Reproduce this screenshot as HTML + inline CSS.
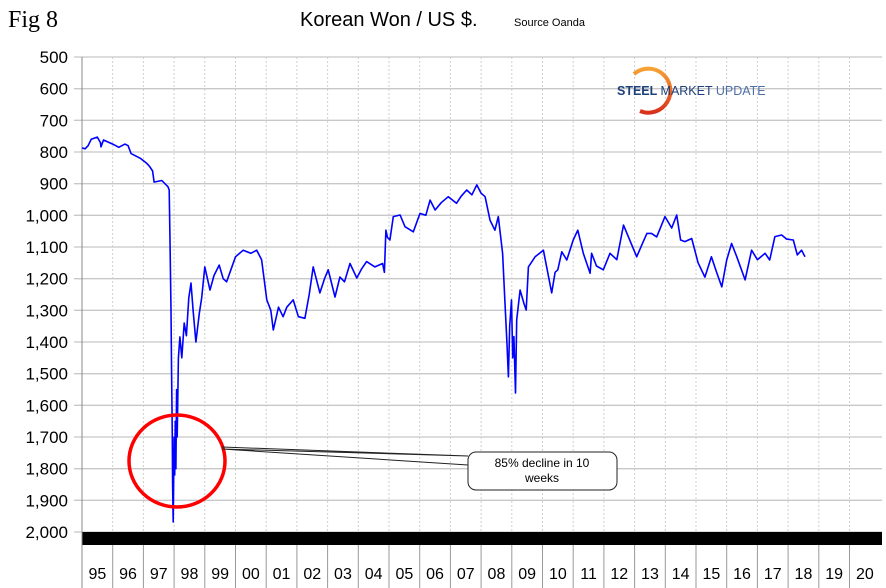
<!DOCTYPE html>
<html><head><meta charset="utf-8"><style>
html,body{margin:0;padding:0;background:#fff;width:886px;height:588px;overflow:hidden}
svg{display:block;font-family:"Liberation Sans",Arial,sans-serif}
</style></head><body>
<svg id="chart" width="886" height="588">
  <defs>
    <linearGradient id="arcg" x1="0" y1="0" x2="0" y2="1">
      <stop offset="0" stop-color="#f7a234"/>
      <stop offset="1" stop-color="#d9301c"/>
    </linearGradient>
  </defs>
  <text x="8" y="27" font-family="Liberation Serif,serif" font-size="24">Fig 8</text>
  <text x="300" y="26" font-size="20">Korean Won / US $.</text>
  <text x="514" y="26" font-size="11">Source Oanda</text>
  <g id="grid"></g>
  <g id="ylabels"></g>
  <g id="xlabels"></g>
  <rect x="82" y="532" width="800" height="13" fill="#000"/>
  <line x1="82" y1="57" x2="82" y2="588" stroke="#888" stroke-width="1"/>
  <g>
    <path d="M 634 74 A 22 22 0 1 1 640 111" fill="none" stroke="url(#arcg)" stroke-width="4"/>
    <text x="617" y="95" font-size="12.5"><tspan font-weight="bold" fill="#1d3f7a">STEEL </tspan><tspan fill="#1d3f7a">MARKET </tspan><tspan fill="#4e6fa8">UPDATE</tspan></text>
  </g>
  <path id="series" fill="none" stroke="#0000ff" stroke-width="1.6" stroke-linejoin="round"/>
  <ellipse cx="177" cy="461" rx="48" ry="46" fill="none" stroke="#ff0000" stroke-width="3.5"/>
  <polyline points="222,447 468,456 222,449 468,465" fill="none" stroke="#222" stroke-width="1"/>
  <rect x="468" y="452" width="149" height="38" rx="8" fill="#fff" stroke="#222" stroke-width="1"/>
  <text x="542" y="467" font-size="12" text-anchor="middle"><tspan x="542">85% decline in 10</tspan><tspan x="542" dy="15">weeks</tspan></text>
</svg>
<script>
const yTicks=[500,600,700,800,900,1000,1100,1200,1300,1400,1500,1600,1700,1800,1900,2000];
const yTickLabels=["500","600","700","800","900","1,000","1,100","1,200","1,300","1,400","1,500","1,600","1,700","1,800","1,900","2,000"];
const xYears=[1995,1996,1997,1998,1999,2000,2001,2002,2003,2004,2005,2006,2007,2008,2009,2010,2011,2012,2013,2014,2015,2016,2017,2018,2019,2020];
const xYearLabels=["95","96","97","98","99","00","01","02","03","04","05","06","07","08","09","10","11","12","13","14","15","16","17","18","19","20"];
const dates=[1995.0,1995.1,1995.2,1995.3,1995.5,1995.6,1995.62,1995.7,1996.0,1996.2,1996.4,1996.5,1996.6,1996.9,1997.1,1997.2,1997.3,1997.35,1997.6,1997.8,1997.84,1997.87,1997.9,1997.92,1997.94,1997.95,1997.97,1998.0,1998.02,1998.04,1998.06,1998.08,1998.1,1998.14,1998.19,1998.25,1998.33,1998.4,1998.48,1998.55,1998.62,1998.71,1998.82,1998.9,1999.0,1999.17,1999.3,1999.47,1999.6,1999.71,2000.0,2000.25,2000.5,2000.69,2000.85,2001.02,2001.15,2001.23,2001.4,2001.55,2001.67,2001.88,2002.05,2002.26,2002.4,2002.53,2002.75,2002.9,2003.02,2003.24,2003.4,2003.55,2003.73,2003.95,2004.1,2004.27,2004.54,2004.79,2004.85,2004.9,2004.95,2005.03,2005.14,2005.36,2005.52,2005.79,2006.01,2006.2,2006.34,2006.5,2006.7,2006.93,2007.2,2007.35,2007.53,2007.7,2007.86,2008.0,2008.13,2008.29,2008.45,2008.56,2008.7,2008.78,2008.84,2008.89,2008.93,2008.99,2009.03,2009.07,2009.12,2009.16,2009.27,2009.4,2009.47,2009.54,2009.76,2010.03,2010.3,2010.41,2010.5,2010.63,2010.79,2011.0,2011.15,2011.33,2011.55,2011.6,2011.76,2011.98,2012.2,2012.42,2012.64,2012.85,2013.07,2013.25,2013.4,2013.55,2013.72,2013.99,2014.21,2014.37,2014.5,2014.64,2014.86,2015.07,2015.29,2015.5,2015.67,2015.84,2016.0,2016.16,2016.33,2016.6,2016.81,2017.0,2017.25,2017.4,2017.57,2017.79,2017.95,2018.17,2018.3,2018.44,2018.55,2018.65,2018.77];
const values=[787,790,780,760,753,770,784,762,775,785,775,780,805,820,835,845,860,895,890,910,920,1100,1300,1500,1700,1850,1968,1700,1820,1650,1800,1550,1700,1450,1384,1450,1340,1380,1260,1214,1300,1400,1310,1260,1163,1236,1190,1157,1200,1210,1131,1110,1120,1110,1140,1267,1300,1362,1290,1320,1290,1267,1320,1325,1250,1163,1245,1200,1172,1258,1195,1210,1152,1198,1170,1146,1163,1152,1180,1047,1070,1078,1004,999,1036,1052,994,1000,952,983,960,941,962,940,920,935,904,930,941,1015,1047,1004,1120,1278,1400,1510,1350,1267,1450,1383,1561,1330,1236,1280,1299,1163,1131,1110,1245,1180,1172,1115,1141,1078,1047,1120,1183,1120,1160,1172,1120,1140,1031,1080,1131,1090,1057,1057,1068,1004,1040,999,1078,1083,1073,1150,1195,1131,1180,1226,1141,1089,1131,1204,1110,1140,1120,1141,1067,1062,1075,1078,1125,1110,1131];

const svg=document.getElementById('chart');
const NS='http://www.w3.org/2000/svg';
const X0=82,YW=30.7,Y0=57,Y1=532;
function xScale(yr){return X0+(yr-1995)*YW;}
function yScale(v){return Y0+(v-500)/1500*(Y1-Y0);}
const grid=document.getElementById('grid');
const yl=document.getElementById('ylabels');
const xl=document.getElementById('xlabels');
yTicks.forEach((t,i)=>{
  const y=yScale(t);
  const ln=document.createElementNS(NS,'line');
  ln.setAttribute('x1',74);ln.setAttribute('x2',882);ln.setAttribute('y1',y);ln.setAttribute('y2',y);
  ln.setAttribute('stroke','#c8c8c8');ln.setAttribute('stroke-width','1.3');
  
  
  grid.appendChild(ln);
  const tx=document.createElementNS(NS,'text');
  tx.setAttribute('x',68);tx.setAttribute('y',y+6);tx.setAttribute('text-anchor','end');tx.setAttribute('font-size','17');
  tx.textContent=yTickLabels[i];
  
  
  yl.appendChild(tx);
});
xYears.forEach((yr,i)=>{
  const x=xScale(yr);
  if(i>0){
    const g=document.createElementNS(NS,'line');
    g.setAttribute('x1',x);g.setAttribute('x2',x);g.setAttribute('y1',Y0);g.setAttribute('y2',Y1);
    g.setAttribute('stroke','#cfcfcf');g.setAttribute('stroke-dasharray','2,2');
    
    
    grid.appendChild(g);
  }
  const sep=document.createElementNS(NS,'line');
  sep.setAttribute('x1',x);sep.setAttribute('x2',x);sep.setAttribute('y1',545);sep.setAttribute('y2',588);
  sep.setAttribute('stroke','#999');
  
  
  xl.appendChild(sep);
  const tx=document.createElementNS(NS,'text');
  tx.setAttribute('x',x+YW/2);tx.setAttribute('y',579);tx.setAttribute('text-anchor','middle');tx.setAttribute('font-size','16');
  tx.textContent=xYearLabels[i];
  
  
  xl.appendChild(tx);
});
let d='';
dates.forEach((t,i)=>{d+=(i?'L':'M')+xScale(t).toFixed(1)+' '+yScale(values[i]).toFixed(1)+' ';});
document.getElementById('series').setAttribute('d',d);
</script>
</body></html>
